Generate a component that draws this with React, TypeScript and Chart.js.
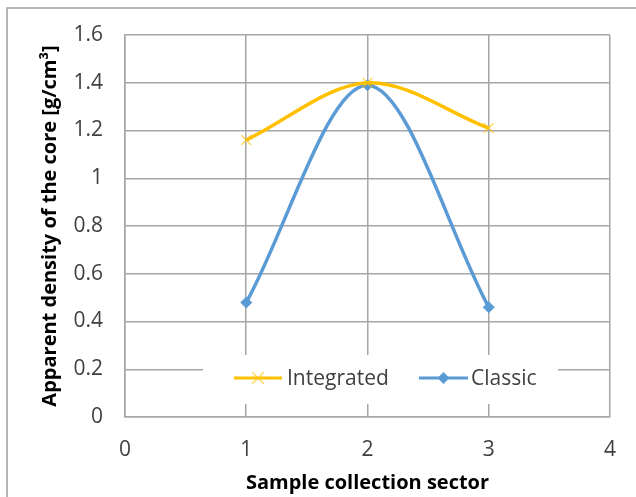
import React, { useEffect, useRef } from "react";
import { Chart, registerables } from "chart.js";

Chart.register(...registerables);

const sectors = [1, 2, 3];
const integrated = [1.16, 1.4, 1.21];
const classic = [0.48, 1.39, 0.46];
const seriesNames = ["Integrated", "Classic"];
const xTitle = "Sample collection sector";
const yTitle = "Apparent density of the core [g/cm³]";

const FONT = "'Open Sans', sans-serif";
const GRID = "#A6A6A6";
const TEXT = "#404040";

const frame = {
  id: "frame",
  beforeDraw(chart: any) {
    const ctx = chart.ctx;
    ctx.save();
    ctx.fillStyle = "#fff";
    ctx.fillRect(0, 0, chart.width, chart.height);
    ctx.strokeStyle = "#A0A0A0";
    ctx.lineWidth = 1.5;
    ctx.strokeRect(7, 8, chart.width + 50, chart.height + 50);
    ctx.restore();
  },
};

const legendBox = {
  id: "legendBox",
  beforeDatasetsDraw(chart: any) {
    const ctx = chart.ctx;
    ctx.save();
    ctx.fillStyle = "#fff";
    ctx.fillRect(203, 355, 355, 49);
    const y = 378;
    const items = [
      { x0: 234, x1: 282, tx: 287 },
      { x0: 419, x1: 468, tx: 471 },
    ];
    chart.data.datasets.forEach((ds: any, i: number) => {
      const it = items[i];
      ctx.strokeStyle = ds.borderColor;
      ctx.lineWidth = 3;
      ctx.beginPath();
      ctx.moveTo(it.x0, y);
      ctx.lineTo(it.x1, y);
      ctx.stroke();
      const cx = (it.x0 + it.x1) / 2;
      if (ds.pointStyle === "crossRot") {
        ctx.strokeStyle = ds.pointBorderColor;
        ctx.lineWidth = 1.5;
        const r = 6;
        ctx.beginPath();
        ctx.moveTo(cx - r, y - r);
        ctx.lineTo(cx + r, y + r);
        ctx.moveTo(cx + r, y - r);
        ctx.lineTo(cx - r, y + r);
        ctx.stroke();
      } else {
        ctx.fillStyle = ds.pointBackgroundColor;
        const r = 6;
        ctx.beginPath();
        ctx.moveTo(cx, y - r);
        ctx.lineTo(cx + r, y);
        ctx.lineTo(cx, y + r);
        ctx.lineTo(cx - r, y);
        ctx.closePath();
        ctx.fill();
      }
      ctx.fillStyle = TEXT;
      ctx.font = `21px ${FONT}`;
      ctx.textBaseline = "middle";
      ctx.textAlign = "left";
      ctx.fillText(ds.label, it.tx, y + 1);
    });
    ctx.restore();
  },
};

export default function App() {
  const ref = useRef<HTMLCanvasElement>(null);
  useEffect(() => {
    document.body.style.margin = "0";
    const chart = new Chart(ref.current!, {
      type: "scatter",
      data: {
        datasets: [
          {
            label: seriesNames[0],
            data: sectors.map((x, i) => ({ x, y: integrated[i] })),
            showLine: true,
            borderColor: "#FFC000",
            borderWidth: 3.5,
            tension: 0.33,
            pointStyle: "crossRot",
            pointRadius: 7,
            pointBorderWidth: 1.5,
            pointBorderColor: "rgba(255,192,0,0.6)",
            pointBackgroundColor: "rgba(255,192,0,0.6)",
          },
          {
            label: seriesNames[1],
            data: sectors.map((x, i) => ({ x, y: classic[i] })),
            showLine: true,
            borderColor: "#5B9BD5",
            borderWidth: 3.5,
            tension: 0.33,
            pointStyle: "rectRot",
            pointRadius: 6,
            pointBorderWidth: 0,
            pointBorderColor: "#5B9BD5",
            pointBackgroundColor: "#5B9BD5",
          },
        ],
      },
      options: {
        responsive: false,
        animation: false,
        devicePixelRatio: 1,
        layout: { padding: { left: 38, right: 19, top: 35, bottom: 2 } },
        plugins: {
          legend: { display: false },
          tooltip: { enabled: false },
        },
        scales: {
          x: {
            type: "linear",
            min: 0,
            max: 4,
            ticks: {
              stepSize: 1,
              color: TEXT,
              font: { family: FONT, size: 21 },
              padding: 20,
            },
            grid: { color: GRID, lineWidth: 1.5, drawTicks: false },
            border: { display: true, color: GRID, width: 1.5 },
            title: {
              display: true,
              text: xTitle,
              color: "#000",
              font: { family: FONT, size: 20, weight: "bold" },
              padding: { top: 0, bottom: 0 },
            },
            afterFit(s: any) {
              s.height = 78;
            },
          },
          y: {
            min: 0,
            max: 1.6,
            ticks: {
              stepSize: 0.2,
              color: TEXT,
              font: { family: FONT, size: 21 },
              padding: 22,
              callback: (v: any) => String(Math.round(Number(v) * 10) / 10),
            },
            grid: { color: GRID, lineWidth: 1.5, drawTicks: false },
            border: { display: true, color: GRID, width: 1.5 },
            title: {
              display: true,
              text: yTitle,
              color: "#000",
              font: { family: FONT, size: 20, weight: "bold" },
              padding: { top: 0, bottom: 0 },
            },
            afterFit(s: any) {
              s.width = 87;
            },
          },
        },
      } as any,
      plugins: [frame, legendBox],
    });
    return () => chart.destroy();
  }, []);
  return (
    <div style={{ position: "fixed", left: 0, top: 0, width: 636, height: 497 }}>
      <canvas ref={ref} width={636} height={497} />
    </div>
  );
}
